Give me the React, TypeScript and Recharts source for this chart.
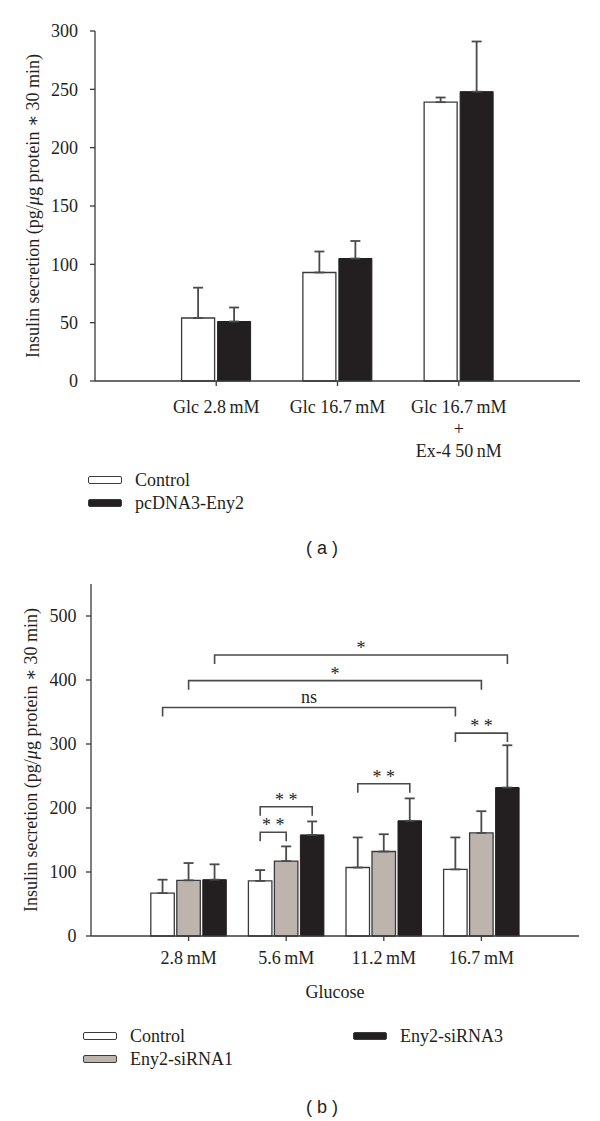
import React from "react";
import {
  BarChart,
  Bar,
  XAxis,
  YAxis,
  ErrorBar,
  Legend,
  ReferenceLine,
  Label,
} from "recharts";

const FONT = '"Liberation Serif", "DejaVu Serif", serif';
const FS = 18;
const INK = "#231f20";
const AXIS = "#3a3a3a";
const WHISKER = "#4a4a4a";

// (a) Eny2 overexpression
const labelsA = ["Glc 2.8\u2009mM", "Glc 16.7\u2009mM", "Glc 16.7\u2009mM\n+\nEx-4 50\u2009nM"];
const controlA = [54, 93, 239];
const controlAErr = [26, 18, 4];
const enyA = [51, 105, 248];
const enyAErr = [12, 15, 43];
const ticksA = [0, 50, 100, 150, 200, 250, 300];

// (b) Eny2 knockdown
const glucoseB = ["2.8\u2009mM", "5.6\u2009mM", "11.2\u2009mM", "16.7\u2009mM"];
const controlB = [67, 86, 107, 104];
const controlBErr = [21, 17, 47, 50];
const si1B = [87, 117, 132, 161];
const si1BErr = [27, 23, 27, 34];
const si3B = [88, 158, 180, 232];
const si3BErr = [24, 21, 35, 66];
const ticksB = [0, 100, 200, 300, 400, 500];

// significance brackets: [fromGroup, fromSeries, toGroup, toSeries, height, text]
const bracketsB: [number, number, number, number, number, string][] = [
  [0, 0, 3, 0, 357, "ns"],
  [0, 1, 3, 1, 399, "*"],
  [0, 2, 3, 2, 439, "*"],
  [3, 0, 3, 2, 317, "* *"],
  [1, 0, 1, 1, 162, "* *"],
  [1, 0, 1, 2, 202, "* *"],
  [2, 0, 2, 2, 238, "* *"],
];

const dataA = labelsA.map((g, i) => ({
  g,
  control: controlA[i],
  controlErr: [0, controlAErr[i]],
  eny: enyA[i],
  enyErr: [0, enyAErr[i]],
}));

const dataB = glucoseB.map((g, i) => ({
  g,
  control: controlB[i],
  controlErr: [0, controlBErr[i]],
  si1: si1B[i],
  si1Err: [0, si1BErr[i]],
  si3: si3B[i],
  si3Err: [0, si3BErr[i]],
}));

const Y_W_B = 91;
const RIGHT_B = 21;
const PLOT_W_B = 600 - Y_W_B - RIGHT_B;
const BAR_B = 23.5;
const GAP_B = 2.5;

function GroupTick({ x, y, payload, lineGap }: any) {
  const lines = String(payload.value).split("\n");
  return (
    <text x={x} y={y} textAnchor="middle" fontFamily={FONT} fontSize={FS} fill={INK}>
      {lines.map((l, i) => (
        <tspan key={i} x={x} dy={i === 0 ? "0.71em" : lineGap}>
          {l}
        </tspan>
      ))}
    </text>
  );
}

function YTitle({ viewBox, cx }: any) {
  const x = viewBox.x + cx;
  const y = viewBox.y + viewBox.height / 2;
  return (
    <text
      x={x}
      y={y}
      transform={`rotate(-90 ${x} ${y})`}
      textAnchor="middle"
      dominantBaseline="central"
      fontFamily={FONT}
      fontSize={FS}
      fill={INK}
    >
      Insulin secretion (pg/<tspan fontStyle="italic">μ</tspan>g protein ∗ 30 min)
    </text>
  );
}

function XTitle({ viewBox }: any) {
  return (
    <text
      x={viewBox.x + viewBox.width / 2}
      y={viewBox.y + 56}
      textAnchor="middle"
      dominantBaseline="central"
      fontFamily={FONT}
      fontSize={FS}
      fill={INK}
    >
      Glucose
    </text>
  );
}

// bracket drawn from the group centres given by the axis, shifted onto the bars
function Bracket({ x1, x2, y1, s1, s2, text }: any) {
  const step = BAR_B + GAP_B;
  const a = x1 + (s1 - 1) * step;
  const b = x2 + (s2 - 1) * step;
  const drop = 9;
  return (
    <g>
      <path
        d={`M${a},${y1 + drop}V${y1}H${b}V${y1 + drop}`}
        fill="none"
        stroke={WHISKER}
        strokeWidth={1.6}
      />
      <text
        x={(a + b) / 2}
        y={y1 - (text === "ns" ? 5 : 1)}
        textAnchor="middle"
        fontFamily={FONT}
        fontSize={FS}
        fill={INK}
      >
        {text}
      </text>
    </g>
  );
}

function SwatchLegend({ payload, colGap }: any) {
  return (
    <div
      style={{
        display: "grid",
        gridTemplateRows: "23px 23px",
        gridAutoFlow: "column",
        gridTemplateColumns: colGap ? `${colGap}px auto` : "auto",
        fontFamily: FONT,
        fontSize: FS,
        color: INK,
      }}
    >
      {(payload || []).map((e: any) => (
        <div key={e.value} style={{ display: "flex", alignItems: "center" }}>
          <span
            style={{
              display: "inline-block",
              width: 32,
              height: 6,
              background: e.color,
              border: `1.3px solid ${AXIS}`,
              borderRadius: 2,
              marginRight: 13,
            }}
          />
          {e.value}
        </div>
      ))}
    </div>
  );
}

const caption: React.CSSProperties = {
  position: "absolute",
  left: 272,
  width: 100,
  textAlign: "center",
  fontFamily: '"Liberation Sans", Arial, sans-serif',
  fontSize: 18,
  color: INK,
  lineHeight: "20px",
};

export default function App() {
  return (
    <div style={{ position: "absolute", left: 0, top: 0, width: 600, height: 1121, background: "#fff" }}>
      <div style={{ position: "absolute", left: 0, top: 0 }}>
        <BarChart
          width={600}
          height={520}
          data={dataA}
          margin={{ top: 31, right: 20, bottom: 59, left: 0 }}
          barSize={33}
          barGap={3}
        >
          <XAxis
            dataKey="g"
            padding={{ left: 60.6, right: 60.6 }}
            height={80}
            interval={0}
            axisLine={{ stroke: AXIS, strokeWidth: 1.3 }}
            tickLine={{ stroke: AXIS, strokeWidth: 1.3 }}
            tickSize={5}
            tickMargin={14}
            tick={<GroupTick lineGap={22} />}
          />
          <YAxis
            domain={[0, 300]}
            ticks={ticksA}
            width={95}
            axisLine={{ stroke: AXIS, strokeWidth: 1.3 }}
            tickLine={{ stroke: AXIS, strokeWidth: 1.3 }}
            tickSize={5}
            tickMargin={12}
            tick={{ fill: INK, fontSize: FS, fontFamily: FONT }}
          >
            <Label content={(p: any) => <YTitle viewBox={p.viewBox} cx={33} />} />
          </YAxis>
          <Bar dataKey="control" name="Control" fill="#ffffff" stroke={AXIS} strokeWidth={1.3} isAnimationActive={false}>
            <ErrorBar dataKey="controlErr" width={5} stroke={WHISKER} strokeWidth={1.8} />
          </Bar>
          <Bar dataKey="eny" name="pcDNA3-Eny2" fill={INK} stroke={INK} strokeWidth={1} isAnimationActive={false}>
            <ErrorBar dataKey="enyErr" width={5} stroke={WHISKER} strokeWidth={1.8} />
          </Bar>
          <Legend
            layout="horizontal"
            verticalAlign="middle"
            align="center"
            wrapperStyle={{ left: 88, top: 468.5, width: 300 }}
            content={(p: any) => <SwatchLegend payload={p.payload} />}
          />
        </BarChart>
      </div>
      <div style={{ ...caption, top: 538 }}>( a )</div>

      <div style={{ position: "absolute", left: 0, top: 560 }}>
        <BarChart
          width={600}
          height={520}
          data={dataB}
          margin={{ top: 24, right: RIGHT_B, bottom: 82, left: 0 }}
          barSize={BAR_B}
          barGap={GAP_B}
        >
          <XAxis
            dataKey="g"
            padding={{ left: PLOT_W_B / 10, right: PLOT_W_B / 10 }}
            height={62}
            interval={0}
            axisLine={{ stroke: AXIS, strokeWidth: 1.3 }}
            tickLine={{ stroke: AXIS, strokeWidth: 1.3 }}
            tickSize={5}
            tickMargin={10.5}
            tick={<GroupTick lineGap={22} />}
          >
            <Label content={(p: any) => <XTitle viewBox={p.viewBox} />} />
          </XAxis>
          <YAxis
            domain={[0, 550]}
            ticks={ticksB}
            width={Y_W_B}
            axisLine={{ stroke: AXIS, strokeWidth: 1.3 }}
            tickLine={{ stroke: AXIS, strokeWidth: 1.3 }}
            tickSize={5}
            tickMargin={9.5}
            tick={{ fill: INK, fontSize: FS, fontFamily: FONT }}
          >
            <Label content={(p: any) => <YTitle viewBox={p.viewBox} cx={31} />} />
          </YAxis>
          <Bar dataKey="control" name="Control" fill="#ffffff" stroke={AXIS} strokeWidth={1.3} isAnimationActive={false}>
            <ErrorBar dataKey="controlErr" width={5} stroke={WHISKER} strokeWidth={1.8} />
          </Bar>
          <Bar dataKey="si1" name="Eny2-siRNA1" fill="#bdb4ae" stroke={AXIS} strokeWidth={1.3} isAnimationActive={false}>
            <ErrorBar dataKey="si1Err" width={5} stroke={WHISKER} strokeWidth={1.8} />
          </Bar>
          <Bar dataKey="si3" name="Eny2-siRNA3" fill={INK} stroke={INK} strokeWidth={1} isAnimationActive={false}>
            <ErrorBar dataKey="si3Err" width={5} stroke={WHISKER} strokeWidth={1.8} />
          </Bar>
          {bracketsB.map(([g1, s1, g2, s2, h, text], i) => (
            <ReferenceLine
              key={i}
              ifOverflow="visible"
              segment={[
                { x: glucoseB[g1], y: h },
                { x: glucoseB[g2], y: h },
              ]}
              shape={(p: any) => <Bracket {...p} s1={s1} s2={s2} text={text} />}
            />
          ))}
          <Legend
            layout="horizontal"
            verticalAlign="middle"
            align="center"
            wrapperStyle={{ left: 83, top: 464.5, width: 450 }}
            content={(p: any) => <SwatchLegend payload={p.payload} colGap={270} />}
          />
        </BarChart>
      </div>
      <div style={{ ...caption, top: 1097 }}>( b )</div>
    </div>
  );
}
